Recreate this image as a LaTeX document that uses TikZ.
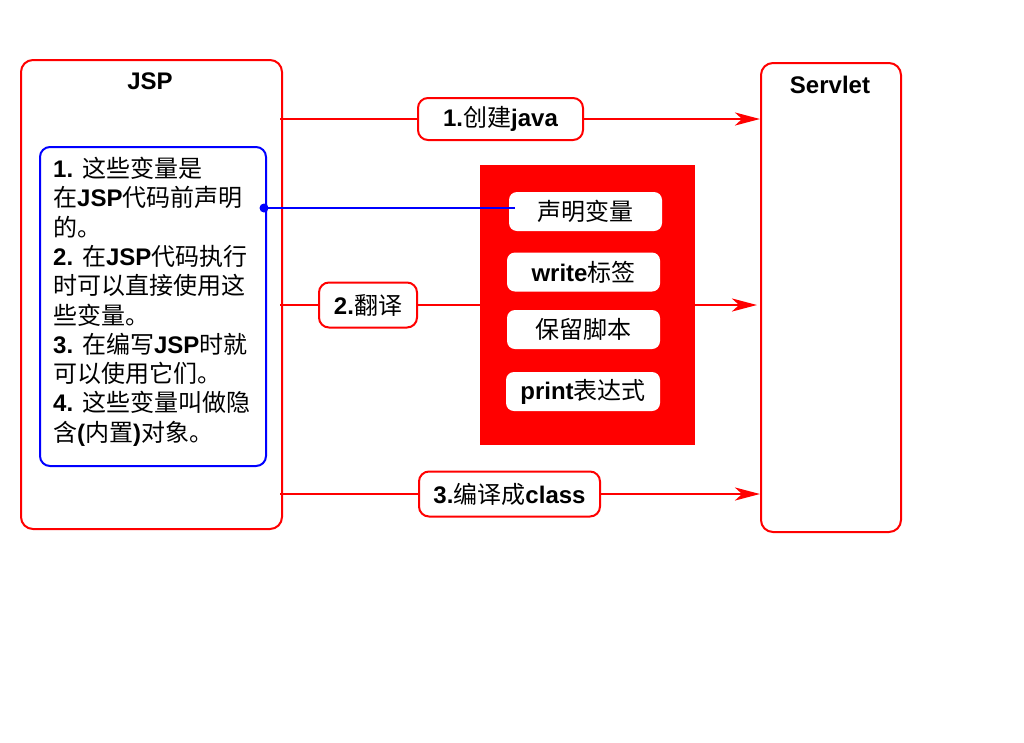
\documentclass[tikz,border=0pt]{standalone}
\usepackage{fontspec}
\setmainfont{Liberation Sans}
\newfontfamily\zhfont{Noto Sans CJK SC}
\newcommand{\zh}[1]{{\zhfont\mdseries #1}}
\usetikzlibrary{arrows.meta}
\definecolor{pred}{RGB}{255,0,0}
\definecolor{pblue}{RGB}{0,0,255}
\tikzset{
  bigbox/.style={draw=pred, line width=2pt, rounded corners=12pt, inner sep=0pt},
  bluebox/.style={draw=pblue, line width=2pt, rounded corners=10pt, inner sep=0pt, minimum width=226pt, minimum height=319pt},
  lbl/.style={draw=pred, fill=white, line width=2pt, rounded corners=10pt, inner sep=0pt, font=\fontsize{24}{28}\selectfont\bfseries},
  inbox/.style={fill=white, rounded corners=8pt, inner sep=0pt, minimum width=153pt, minimum height=39pt, font=\fontsize{24}{28}\selectfont\bfseries},
  title/.style={font=\fontsize{24}{28}\selectfont\bfseries, inner sep=0pt},
  redline/.style={draw=pred, line width=2.8pt},
  redarrow/.style={redline, -{Stealth[length=25pt, width=13pt, inset=7pt]}},
}
\begin{document}
\begin{tikzpicture}[x=1pt,y=-1pt]
\useasboundingbox (0,0) rectangle (1024,742);
% main boxes
\node[bigbox, minimum width=261pt, minimum height=469pt] (jsp) at (151.5,294.5) {};
\node[title] (jsptitle) at (150,81) {JSP};
\node[bigbox, minimum width=140pt, minimum height=469pt] (servlet) at (831,297.5) {};
\node[title] (servlettitle) at (830,85) {Servlet};
% blue box
\node[bluebox] (blue) at (153,306.5) {};
\node[anchor=north west, inner sep=0pt, align=left, font=\fontsize{24}{29.3}\selectfont\bfseries] (bluetext) at (53,157)
 {1. \zh{这些变量是}\\
  \zh{在}JSP\zh{代码前声明}\\
  \zh{的。}\\
  2. \zh{在}JSP\zh{代码执行}\\
  \zh{时可以直接使用这}\\
  \zh{些变量。}\\
  3. \zh{在编写}JSP\zh{时就}\\
  \zh{可以使用它们。}\\
  4. \zh{这些变量叫做隐}\\
  \zh{含}(\zh{内置})\zh{对象。}};
% red block
\node[fill=pred, minimum width=215pt, minimum height=280pt, inner sep=0pt] (block) at (587.5,305) {};
\node[inbox] (b1) at (585.5,211.5) {\zh{声明变量}};
\node[inbox] (b2) at (583.5,272) {write\zh{标签}};
\node[inbox] (b3) at (583.5,329.5) {\zh{保留脚本}};
\node[inbox, minimum width=154pt] (b4) at (583,391.5) {print\zh{表达式}};
% labels
\node[lbl, minimum width=165pt, minimum height=42pt] (l1) at (500.5,119) {1.\zh{创建}java};
\node[lbl, minimum width=98pt, minimum height=45pt] (l2) at (368,305) {2.\zh{翻译}};
\node[lbl, minimum width=181pt, minimum height=45pt] (l3) at (509.5,494) {3.\zh{编译成}class};
% connectors
\draw[redline] ([xshift=-3pt]jsp.east |- l1) -- (l1.west);
\draw[redarrow] (l1.east) -- (servlet.west |- l1);
\draw[redline] ([xshift=-3pt]jsp.east |- l2) -- (l2.west);
\draw[redline] (l2.east) -- (block.west |- l2);
\draw[redarrow] (block.east |- l2) -- ([xshift=-3pt]servlet.west |- l2);
\draw[redline] ([xshift=-3pt]jsp.east |- l3) -- (l3.west);
\draw[redarrow] (l3.east) -- (servlet.west |- l3);
% blue connector
\coordinate (bdot) at ([xshift=-3pt,yshift=3.5pt]blue.east |- b1);
\draw[draw=pblue, line width=2.8pt] (bdot) -- ([xshift=6pt]b1.west |- bdot);
\fill[pblue] (bdot) circle (4.5pt);
\end{tikzpicture}
\end{document}
